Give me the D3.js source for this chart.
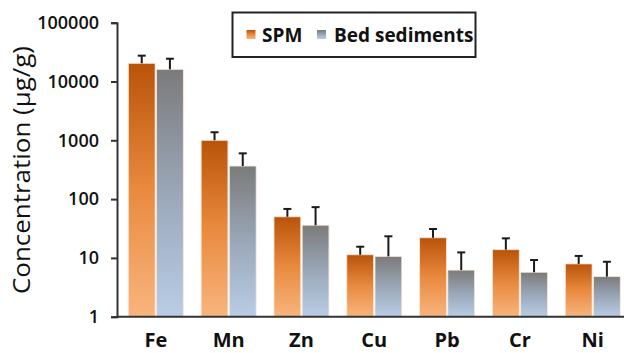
<!DOCTYPE html>
<html>
<head>
<meta charset="utf-8">
<script src="https://cdn.jsdelivr.net/npm/d3@7/dist/d3.min.js"></script>
<style>
  html, body { margin: 0; padding: 0; background: #fff; }
  svg { display: block; }
  text { font-family: "Open Sans", "DejaVu Sans", sans-serif; fill: #111; }
</style>
</head>
<body>
<svg id="chart" width="624" height="353"></svg>
<script>
// Metal concentrations (µg/g): suspended particulate matter vs bed sediments
const metals = ["Fe", "Mn", "Zn", "Cu", "Pb", "Cr", "Ni"];
const seriesNames = ["SPM", "Bed sediments"];
const spmMean = [20400, 1000, 50, 11.3, 22, 13.8, 7.9];
const spmSd   = [7100, 370, 18, 4.2, 9, 7.7, 2.9];
const bedMean = [16100, 365, 36, 10.6, 6.2, 5.7, 4.8];
const bedSd   = [8300, 235, 37, 12.7, 6.2, 3.5, 3.8];
const yTicks  = [1, 10, 100, 1000, 10000, 100000];

const svg = d3.select("#chart");

const y = d3.scaleLog().domain([1, 100000]).range([316.7, 22.7]);
const x = d3.scaleBand().domain(metals).range([119.4, 629.2])
  .paddingInner(0.245).paddingOuter(0.1225);
const xs = d3.scaleBand().domain(seriesNames).range([0, x.bandwidth()]).paddingInner(0.05);

// vertical gradients per bar: dark at top, light at bottom
const defs = svg.append("defs");
const grads = [
  { id: "gSPM", stops: ["#b9530a", "#e98a3f", "#f8b57e"] },
  { id: "gBed", stops: ["#7b7b7b", "#9aa7b8", "#b9cde6"] }
];
grads.forEach(g => {
  const lg = defs.append("linearGradient").attr("id", g.id)
    .attr("x1", 0).attr("y1", 0).attr("x2", 0).attr("y2", 1);
  g.stops.forEach((c, i) => lg.append("stop")
    .attr("offset", i / (g.stops.length - 1)).attr("stop-color", c));
});

const rows = metals.map((m, i) => ({
  metal: m,
  vals: [
    { s: seriesNames[0], v: spmMean[i], e: spmSd[i], fill: "url(#gSPM)" },
    { s: seriesNames[1], v: bedMean[i], e: bedSd[i], fill: "url(#gBed)" }
  ]
}));

const groups = svg.append("g").selectAll("g").data(rows).join("g")
  .attr("transform", d => `translate(${x(d.metal)},0)`);

groups.selectAll("rect").data(d => d.vals).join("rect")
  .attr("x", d => xs(d.s))
  .attr("width", xs.bandwidth())
  .attr("y", d => y(d.v))
  .attr("height", d => y(1) - y(d.v))
  .attr("fill", d => d.fill)
  .attr("stroke", "#fbe7d8")
  .attr("stroke-width", 0.8);

// upper error bars
const eb = groups.selectAll("g.err").data(d => d.vals).join("g").attr("class", "err");
eb.append("line")
  .attr("x1", d => xs(d.s) + xs.bandwidth() / 2)
  .attr("x2", d => xs(d.s) + xs.bandwidth() / 2)
  .attr("y1", d => y(d.v))
  .attr("y2", d => y(d.v + d.e))
  .attr("stroke", "#1a1a1a").attr("stroke-width", 2);
eb.append("line")
  .attr("x1", d => xs(d.s) + xs.bandwidth() / 2 - 4)
  .attr("x2", d => xs(d.s) + xs.bandwidth() / 2 + 4)
  .attr("y1", d => y(d.v + d.e))
  .attr("y2", d => y(d.v + d.e))
  .attr("stroke", "#1a1a1a").attr("stroke-width", 2);

// y axis
const yAxis = svg.append("g").attr("transform", "translate(117,0)")
  .call(d3.axisLeft(y).tickValues(yTicks).tickFormat(d3.format("d")).tickSize(6).tickPadding(12));
yAxis.select(".domain").attr("stroke", "#333").attr("stroke-width", 2);
yAxis.selectAll(".tick line").attr("stroke", "#333").attr("stroke-width", 2);
yAxis.selectAll(".tick text").style("font-size", "18px").style("font-weight", 600)
  .attr("fill", "#111");

// x axis
const xAxis = svg.append("g").attr("transform", `translate(0,${y(1)})`)
  .call(d3.axisBottom(x).tickSize(0).tickPadding(16));
xAxis.select(".domain").attr("d", `M117,0H624`).attr("stroke", "#333").attr("stroke-width", 2);
xAxis.selectAll(".tick text").style("font-size", "20px").style("font-weight", 700)
  .attr("fill", "#111");

// y axis title
svg.append("text")
  .attr("transform", "translate(30,170) rotate(-90)")
  .attr("text-anchor", "middle")
  .attr("textLength", 248)
  .attr("lengthAdjust", "spacingAndGlyphs")
  .style("font-size", "23px")
  .text("Concentration (µg/g)");

// legend
const lg = svg.append("g");
lg.append("rect").attr("x", 232.5).attr("y", 12.5).attr("width", 243).attr("height", 44.5)
  .attr("fill", "#fff").attr("stroke", "#222").attr("stroke-width", 2);
const legendItems = [
  { name: seriesNames[0], fill: "url(#gSPM)", sx: 246.5, tx: 262 },
  { name: seriesNames[1], fill: "url(#gBed)", sx: 317, tx: 334 }
];
legendItems.forEach(it => {
  lg.append("rect").attr("x", it.sx).attr("y", 30).attr("width", 9).attr("height", 9)
    .attr("fill", it.fill);
  lg.append("text").attr("x", it.tx).attr("y", 42)
    .style("font-size", "19px").style("font-weight", 700).text(it.name);
});
</script>
</body>
</html>
